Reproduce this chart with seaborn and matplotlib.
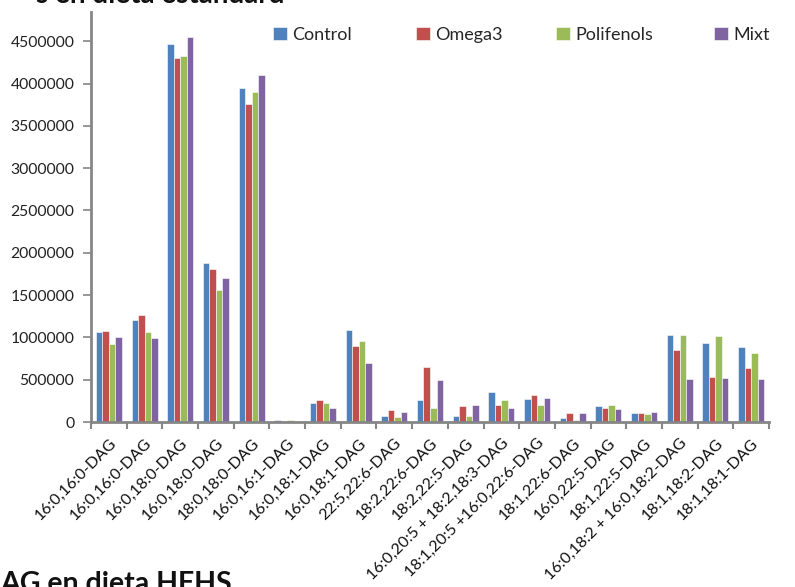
import matplotlib
matplotlib.use("Agg")
import matplotlib.pyplot as plt
import seaborn as sns
import pandas as pd
import numpy as np
from matplotlib.ticker import FixedLocator

categories = [
    "16:0,16:0-DAG", "16:0,16:0-DAG", "16:0,18:0-DAG", "16:0,18:0-DAG",
    "18:0,18:0-DAG", "16:0,16:1-DAG", "16:0,18:1-DAG", "16:0,18:1-DAG",
    "22:5,22:6-DAG", "18:2,22:6-DAG", "18:2,22:5-DAG",
    "16:0,20:5 + 18:2,18:3-DAG", "18:1,20:5 +16:0,22:6-DAG",
    "18:1,22:6-DAG", "16:0,22:5-DAG", "18:1,22:5-DAG",
    "16:0,18:2 + 16:0,18:2-DAG", "18:1,18:2-DAG", "18:1,18:1-DAG",
]
series = ["Control", "Omega3", "Polifenols", "Mixt"]

control = [1064000, 1202000, 4464000, 1876000, 3944000, 25000, 225000, 1092000,
           71000, 265000, 76000, 355000, 272000, 47000, 189000, 103000,
           1033000, 930000, 891000]
omega3 = [1076000, 1261000, 4307000, 1814000, 3763000, 15000, 265000, 898000,
          138000, 650000, 189000, 201000, 316000, 111000, 170000, 111000,
          851000, 532000, 635000]
polifenols = [926000, 1064000, 4331000, 1565000, 3897000, 28000, 221000, 962000,
              59000, 170000, 72000, 260000, 201000, 24000, 197000, 91000,
              1033000, 1017000, 816000]
mixt = [1009000, 989000, 4551000, 1698000, 4098000, 8000, 162000, 702000,
        123000, 501000, 197000, 165000, 288000, 106000, 158000, 118000,
        513000, 520000, 505000]

colors = ["#4F81BD", "#C0504D", "#9BBB59", "#8064A2"]

rows = []
for name, vals in zip(series, [control, omega3, polifenols, mixt]):
    for i, (c, v) in enumerate(zip(categories, vals)):
        rows.append({"pos": i, "cat": c, "serie": name, "valor": v})
df = pd.DataFrame(rows)

sns.set_theme(style="white")
plt.rcParams["font.family"] = ["Lato", "DejaVu Sans"]

fig = plt.figure(figsize=(7.95, 5.87), dpi=100)
ax = fig.add_axes([91 / 795, 1 - 422 / 587, (769 - 91) / 795, (422 - 12) / 587])

sns.barplot(data=df, x="pos", y="valor", hue="serie", hue_order=series,
            palette=colors, width=0.73, ax=ax, saturation=1,
            edgecolor="white", linewidth=0.4)

ax.set_ylim(0, 4846000)
ax.set_xlim(-0.5, len(categories) - 0.5)
yt = np.arange(0, 4500001, 500000)
ax.set_yticks(yt)
ax.set_yticklabels([str(int(v)) for v in yt], fontsize=11.3, color="#222222")
ax.set_xticks(range(len(categories)))
ax.set_xticklabels(categories, rotation=45, ha="right", rotation_mode="anchor",
                   fontsize=11.5, color="#111111")
ax.tick_params(axis="x", which="major", length=0, pad=10)
ax.xaxis.set_minor_locator(FixedLocator(np.arange(-0.5, len(categories), 1.0)))
ax.tick_params(axis="x", which="minor", length=5, width=1.5, color="#868686",
               direction="out", bottom=True)
ax.tick_params(axis="y", length=6, width=1.2, color="#868686", direction="out",
               left=True, pad=6)
ax.set_xlabel("")
ax.set_ylabel("")
for s in ["top", "right"]:
    ax.spines[s].set_visible(False)
for s in ["left", "bottom"]:
    ax.spines[s].set_color("#868686")
    ax.spines[s].set_linewidth(2)

handles, labels = ax.get_legend_handles_labels()
ax.get_legend().remove()
legend_x = [273, 416, 556, 714]
for h, l, lx in zip(handles, labels, legend_x):
    fig.legend([h], [l], loc="center left",
               bbox_to_anchor=(lx / 795, 1 - 35 / 587), bbox_transform=fig.transFigure,
               frameon=False, fontsize=13, handlelength=0.75, handleheight=0.75,
               handletextpad=0.3, borderaxespad=0, borderpad=0)

fig.text(285 / 795, 1 - 3 / 587, "s en dieta estàndard", ha="right", va="baseline",
         fontsize=20, fontweight="bold", color="#111111")
fig.text(0, 1 - 571 / 587, "AG en dieta HFHS", ha="left", va="top",
         fontsize=20.5, fontweight="bold", color="#111111")

fig.savefig("out.png", dpi=100)
